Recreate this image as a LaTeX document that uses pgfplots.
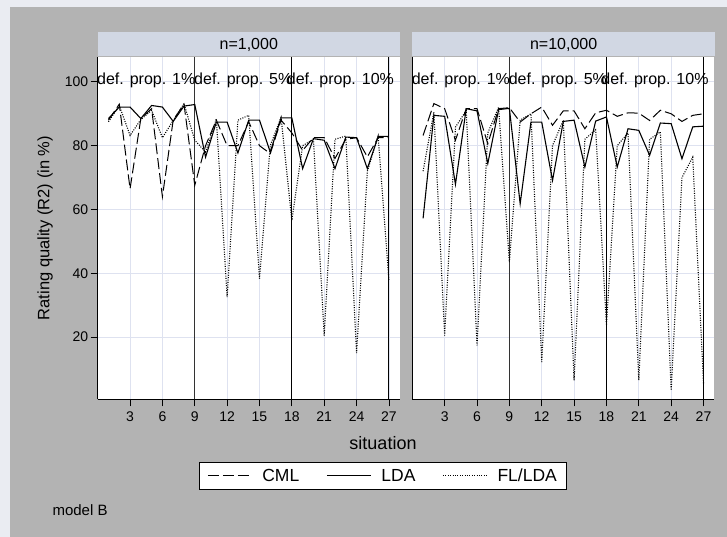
\documentclass[border=0pt]{standalone}
\usepackage{fontspec}
\setmainfont{Liberation Sans}
\usepackage{pgfplots}
\pgfplotsset{compat=1.18}

\definecolor{bggray}{RGB}{179,179,179}
\definecolor{outer}{RGB}{234,236,242}
\definecolor{strip}{RGB}{209,215,227}
\definecolor{gridc}{RGB}{222,226,240}

% situation, CML, LDA, FL/LDA
\pgfplotstableread{
s cml lda fl
1 88 88.5 87.5
2 93 92.1 92.6
3 66.5 92.1 83.2
4 88.5 88.5 88.2
5 91.6 92.6 91.1
6 64 92.1 82.5
7 88 87.6 87.9
8 93 92.4 93.2
9 67.6 92.9 81.7
10 80 76.4 78
11 88 87.4 88.4
12 80 87.4 32.5
13 80 77.7 88
14 87.5 88 89.5
15 80 88 38.3
16 77.5 78 80
17 88 88.7 88.9
18 84 88.7 56.6
19 78.5 72.8 80
20 82.5 82.2 82
21 82.5 81.7 20.5
22 76 72.8 82
23 82 82.7 83
24 82.5 82.5 15
25 76.5 72.8 72
26 82.5 82.9 83
27 82.5 82.9 37.8
}\nA

\pgfplotstableread{
s cml lda fl
1 83.2 57.2 72
2 93.2 89.5 90.5
3 91.6 89.2 20.5
4 81.7 67.9 85.8
5 91.6 91.6 91
6 91.6 90.9 17.4
7 80.6 74.4 84
8 91.6 91.3 92
9 91.9 91.7 43.5
10 87.4 61.8 88
11 90 87.4 90
12 92.1 87.4 12.2
13 86.4 69.1 80
14 90.9 87.6 88
15 90.9 88 6.4
16 85.3 73.3 82
17 90.3 87.7 85
18 91.1 89 23.7
19 89.2 73.3 80
20 90.3 85.3 84
21 90.2 84.8 6.4
22 87.9 77 82
23 91.1 87.1 84.3
24 90 86.9 3.3
25 87.6 75.9 70
26 89.5 85.9 76.4
27 90 86.1 5.5
}\nB

\pgfplotsset{
  panel/.style={
    scale only axis, width=302pt, height=342pt,
    xmin=0, xmax=28, ymin=0.5, ymax=107.7,
    xtick={3,6,...,27}, ytick={20,40,...,100},
    axis lines=left, axis line style={-, black, line width=0.8pt},
    tick align=outside, major tick length=7pt,
    tick style={black, line width=0.8pt},
    grid=major, major grid style={gridc, line width=0.8pt},
    axis background/.style={fill=white},
    tick label style={font=\fontsize{14}{16}\selectfont},
    xticklabel style={yshift=-2pt},
    yticklabel style={xshift=1pt},
    /pgf/number format/assume math mode=true,
    clip=true,
  },
  cml/.style={black, line width=1pt, dash pattern=on 11pt off 4pt},
  lda/.style={black, line width=1.1pt},
  fl/.style={black, line width=1.1pt, dash pattern=on 1pt off 1.4pt},
}
\newcommand\lbl{\fontsize{16}{18}\selectfont}

\begin{document}
\begin{tikzpicture}
\fill[outer] (0pt,0pt) rectangle (727pt,-537pt);
\fill[bggray] (10pt,-7pt) rectangle (727pt,-537pt);

\begin{axis}[panel, at={(97.7pt,-399.3pt)}, anchor=south west,
  legend style={at={(0.945,-0.224)}, anchor=center, legend columns=3,
    draw=black, line width=0.8pt, fill=white,
    font=\fontsize{17.5}{20}\selectfont, inner xsep=8pt, inner ysep=4pt,
    /tikz/every odd column/.append style={column sep=8pt},
    /tikz/every even column/.append style={column sep=25pt}},
  legend image code/.code={\draw[#1] (0pt,0pt) -- (44pt,0pt);},
]
\draw[black!80, line width=1.2pt] (axis cs:9,0.5) -- (axis cs:9,107.7);
\draw[black, line width=1pt] (axis cs:18,0.5) -- (axis cs:18,107.7);
\draw[black, line width=1pt] (axis cs:27,0.5) -- (axis cs:27,107.7);
\addplot[cml] table[x=s,y=cml] {\nA};
\addplot[lda] table[x=s,y=lda] {\nA};
\addplot[fl] table[x=s,y=fl] {\nA};
\legend{CML, LDA, FL/LDA}
\node[font=\lbl] at (axis cs:4.5,100.6) {def. prop. 1\%};
\node[font=\lbl] at (axis cs:13.5,100.6) {def. prop. 5\%};
\node[font=\lbl] at (axis cs:22.5,100.6) {def. prop. 10\%};
\end{axis}

\begin{axis}[panel, at={(412.3pt,-399.3pt)}, anchor=south west,
  yticklabels={}, ytick style={draw=none}]
\draw[black!80, line width=1.2pt] (axis cs:9,0.5) -- (axis cs:9,107.7);
\draw[black, line width=1pt] (axis cs:18,0.5) -- (axis cs:18,107.7);
\draw[black, line width=1pt] (axis cs:27,0.5) -- (axis cs:27,107.7);
\addplot[cml] table[x=s,y=cml] {\nB};
\addplot[lda] table[x=s,y=lda] {\nB};
\addplot[fl] table[x=s,y=fl] {\nB};
\node[font=\lbl] at (axis cs:4.5,100.6) {def. prop. 1\%};
\node[font=\lbl] at (axis cs:13.5,100.6) {def. prop. 5\%};
\node[font=\lbl] at (axis cs:22.5,100.6) {def. prop. 10\%};
\end{axis}

\fill[strip] (97.7pt,-32pt) rectangle (400pt,-56.5pt);
\fill[strip] (412.3pt,-32pt) rectangle (715pt,-56.5pt);
\node[font=\lbl] at (248.8pt,-44.5pt) {n=1,000};
\node[font=\lbl] at (563.6pt,-44.5pt) {n=10,000};
\node[font=\fontsize{18}{20}\selectfont] at (383pt,-443pt) {situation};
\node[font=\fontsize{16.5}{19}\selectfont, rotate=90] at (45pt,-228pt) {Rating quality (R2) (in \%)};
\node[font=\fontsize{15}{17}\selectfont, anchor=west] at (49pt,-510pt) {model B};
\end{tikzpicture}
\end{document}
